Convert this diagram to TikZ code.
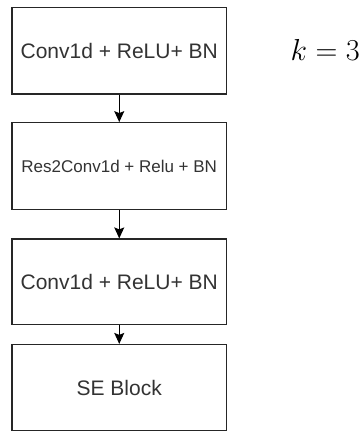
\documentclass[tikz,border=0pt]{standalone}
\usepackage{fontspec}
\setmainfont{Liberation Sans}
\usetikzlibrary{arrows.meta}
\begin{document}
\begin{tikzpicture}[x=1pt,y=-1pt,
  blockbox/.style={draw=black!85,line width=1.2pt,fill=white,minimum width=214.5pt,inner sep=0pt},
  flowarrow/.style={line width=1.1pt,-{Stealth[length=11pt,width=10pt,inset=2pt]}},
  bigtxt/.style={font=\fontsize{21}{25}\selectfont,text=black!80},
  smalltxt/.style={font=\fontsize{17}{20}\selectfont,text=black!80}]
\useasboundingbox (0,0) rectangle (361,432);
\node[blockbox,bigtxt,minimum height=86.5pt] (b1) at (119.25,50.75) {Conv1d + ReLU+ BN};
\node[blockbox,smalltxt,minimum height=86.8pt] (b2) at (119.25,166.1) {Res2Conv1d + Relu + BN};
\node[blockbox,bigtxt,minimum height=85.5pt] (b3) at (119.25,281.75) {Conv1d + ReLU+ BN};
\node[blockbox,bigtxt,minimum height=86.2pt] (b4) at (119.25,387.6) {SE Block};
\node[font=\fontsize{24.88}{30}\selectfont,anchor=east,inner sep=0pt,scale=1.22,transform shape] (k) at (360,50) {$k=3$};
\draw[flowarrow] (b1) -- (b2);
\draw[flowarrow] (b2) -- (b3);
\draw[flowarrow] (b3) -- (b4);
\end{tikzpicture}
\end{document}
